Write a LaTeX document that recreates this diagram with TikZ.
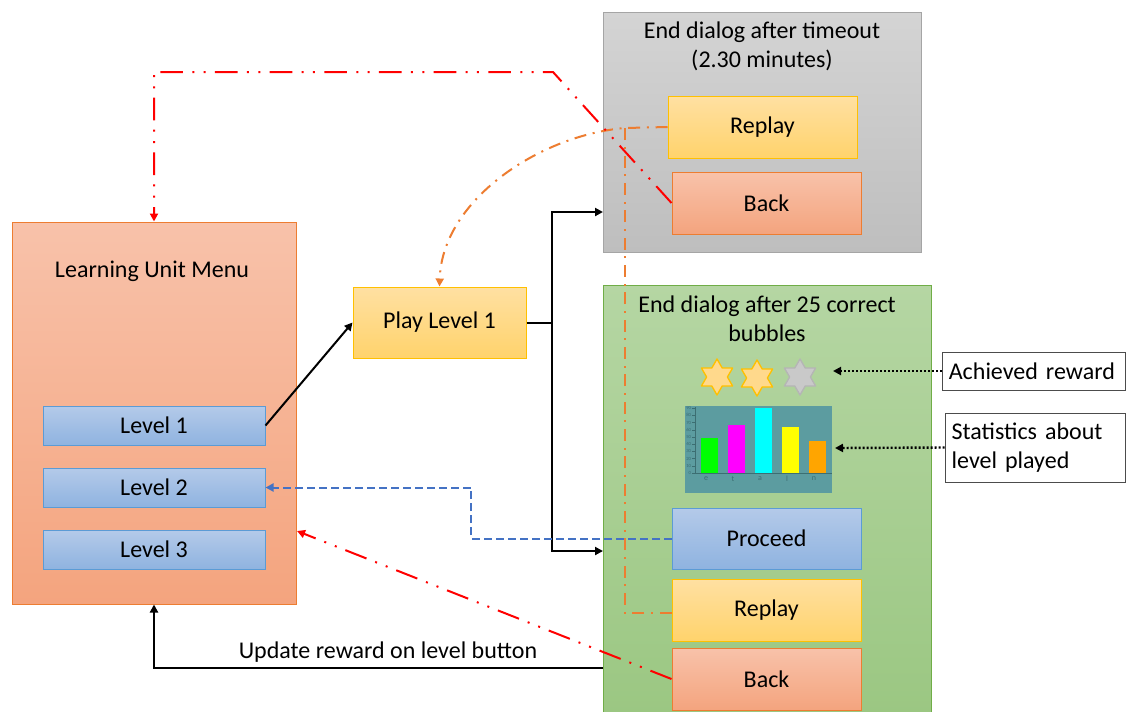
\documentclass[tikz,border=0pt]{standalone}
\usepackage{fontspec}
\setmainfont{Carlito}
\usetikzlibrary{arrows.meta}
\definecolor{orangeline}{HTML}{ED7D31}
\definecolor{orangetop}{HTML}{F8C2AA}
\definecolor{orangebot}{HTML}{F4A47E}
\definecolor{blueline}{HTML}{5B9BD5}
\definecolor{bluetop}{HTML}{B4CAE9}
\definecolor{bluebot}{HTML}{8FB3E0}
\definecolor{yellowline}{HTML}{FFC000}
\definecolor{yellowtop}{HTML}{FFE0A2}
\definecolor{yellowbot}{HTML}{FFD36C}
\definecolor{grayline}{HTML}{A5A5A5}
\definecolor{graytop}{HTML}{D4D4D4}
\definecolor{graybot}{HTML}{BEBEBE}
\definecolor{greenline}{HTML}{70AD47}
\definecolor{greentop}{HTML}{B5D6A3}
\definecolor{greenbot}{HTML}{9BC782}
\definecolor{dashblue}{HTML}{4472C4}
\definecolor{chartbg}{HTML}{5C9CA0}
\definecolor{chartaxis}{HTML}{3C6E72}
\definecolor{stargold}{HTML}{FFD98C}
\definecolor{stargray}{HTML}{C9C9C9}
\definecolor{stargrayline}{HTML}{B5B5B5}
\definecolor{bargreen}{HTML}{00FF00}
\definecolor{barmagenta}{HTML}{FF00FF}
\definecolor{barcyan}{HTML}{00FFFF}
\definecolor{baryellow}{HTML}{FFFF00}
\definecolor{barorange}{HTML}{FFA500}
\tikzset{
  box/.style={draw, line width=0.75pt, inner sep=0pt},
  orangebox/.style={box, draw=orangeline, top color=orangetop, bottom color=orangebot},
  bluebox/.style={box, draw=blueline, top color=bluetop, bottom color=bluebot},
  yellowbox/.style={box, draw=yellowline, top color=yellowtop, bottom color=yellowbot},
  graybox/.style={box, draw=grayline, top color=graytop, bottom color=graybot},
  greenbox/.style={box, draw=greenline, top color=greentop, bottom color=greenbot},
  notebox/.style={draw=black!70, line width=0.75pt, fill=white, inner xsep=5pt, align=left},
  btn/.style={minimum width=141.75pt, minimum height=46.5pt},
  lvl/.style={bluebox, minimum width=166.5pt, minimum height=29.25pt},
  tip/.style={-{Triangle[length=6pt,width=6pt]}},
  blk/.style={draw=black, line width=1.5pt},
  redline/.style={draw=red, line width=1.5pt, dash pattern=on 17pt off 7pt on 1.5pt off 7pt on 1.5pt off 7pt},
  orangedash/.style={draw=orangeline, line width=1.5pt, dash pattern=on 9pt off 5pt on 1.5pt off 5pt},
  bluedash/.style={draw=dashblue, line width=1.5pt, dash pattern=on 6pt off 3pt},
  dotline/.style={draw=black, line width=1.8pt, dash pattern=on 1.5pt off 1.5pt},
  title/.style={align=center},
}
\newcommand{\hexstar}[4]{%
  \filldraw[fill=#3, draw=#4, line width=1pt, line join=round]
    (#1,#2) +(90:18) -- +(120:10.4) -- +(150:18) -- +(180:10.4) -- +(210:18) -- +(240:10.4)
    -- +(270:18) -- +(300:10.4) -- +(330:18) -- +(0:10.4) -- +(30:18) -- +(60:10.4) -- cycle;}
\begin{document}
\begin{tikzpicture}[x=0.75pt,y=-0.75pt, every node/.style={font=\fontsize{18}{21.75}\selectfont, text=black}]
\useasboundingbox (0,0) rectangle (1126,711);
\fill[white] (0,0) rectangle (1126,711);

% Learning unit menu
\node[orangebox, minimum width=213pt, minimum height=286.5pt] (lum) at (154,413) {};
\node (lumtitle) at (152,271) {Learning Unit Menu};
\node[lvl] (lvl1) at (154,425.5) {Level 1};
\node[lvl] (lvl2) at (154,487.5) {Level 2};
\node[lvl] (lvl3) at (154,549.5) {Level 3};

% Play level
\node[yellowbox, minimum width=129.75pt, minimum height=53.25pt] (play) at (439.5,322.5) {Play Level 1};

% Timeout dialog
\node[graybox, minimum width=238.5pt, minimum height=180pt] (gray) at (762,132) {};
\node[title] (graytitle) at (762,46.5) {End dialog after timeout\\(2.30 minutes)};
\node[yellowbox, btn] (replaytop) at (762.5,127) {Replay};
\node[orangebox, btn] (backtop) at (766.5,203) {Back};

% Success dialog
\node[greenbox, minimum width=246pt, minimum height=322.5pt] (green) at (767,500) {};
\node[title] (greentitle) at (767,318.5) {End dialog after 25 correct\\bubbles};
\hexstar{717}{377}{stargold}{yellowline}
\hexstar{757}{378}{stargold}{yellowline}
\hexstar{800}{377}{stargray}{stargrayline}

% chart
\fill[chartbg] (685,406) rectangle (832,493);
\fill[bargreen] (701,438) rectangle (718,473);
\fill[barmagenta] (728,425) rectangle (745,473);
\fill[barcyan] (755,408) rectangle (772,473);
\fill[baryellow] (782,427) rectangle (799,473);
\fill[barorange] (809,441) rectangle (826,473);
\draw[chartaxis, line width=0.5pt] (695,407) -- (695,473) -- (832,473);
\foreach \k in {0,...,9}{
  \draw[chartaxis, line width=0.4pt] (692,473-7.2*\k) -- (695,473-7.2*\k);
  \node[font=\fontsize{3.5}{4}\selectfont, text=chartaxis, anchor=east, inner sep=0.5pt] at (692,473-7.2*\k) {\the\numexpr\k*10\relax};
}
\foreach \l/\xx in {e/706,t/733,a/760,l/787,n/814}{
  \node[font=\fontsize{6}{7}\selectfont, text=chartaxis, inner sep=0pt] at (\xx,479) {\l};
}

\node[bluebox, btn, minimum height=45.75pt] (proceed) at (766.5,538.5) {Proceed};
\node[yellowbox, btn] (replaybot) at (766.5,610) {Replay};
\node[orangebox, btn] (backbot) at (766.5,679) {Back};

% annotation boxes
\node[notebox, minimum width=137.25pt, minimum height=28.5pt, text width=127pt] (achieved) at (1033.5,371) {Achieved reward};
\node[notebox, minimum width=135pt, minimum height=51.75pt, text width=125pt] (stats) at (1035,447.5) {Statistics about\\level played};

% coordinates
\coordinate (junction) at (552,322.5);
\coordinate (grayin) at (603,212);
\coordinate (greenin) at (603,551);
\coordinate (greenout) at (603,668);
\coordinate (topcorner) at (553,72);
\coordinate (lumright) at (297,531);
\coordinate (bluecorner) at (471,538.5);
\coordinate (orangecorner) at (625,128);
\coordinate (starpt) at (833,371);
\coordinate (chartpt) at (835,448);

% connectors
\draw[blk, tip] (lvl1.east) -- (play.west);
\draw[blk] (play.east) -- (junction);
\draw[blk, tip] (junction) |- (grayin);
\draw[blk, tip] (junction) |- (greenin);
\draw[blk, tip] (greenout) -| (lum.south);
\node (updlabel) at (388,652) {Update reward on level button};

\draw[bluedash, tip] (proceed.west) -- (bluecorner) |- (lvl2.east);

\draw[orangedash] (replaybot.west |- 0,613) -| (orangecorner);
\draw[orangedash, tip] (replaytop.west) -- (orangecorner) .. controls (540,135) and (442,200) .. (play.north);

\draw[redline, tip] (backtop.west) -- (topcorner) -| (lum.north);
\draw[redline, tip] (backbot.west) -- (lumright);

\draw[dotline, tip] (achieved.west) -- (starpt);
\draw[dotline, tip] (stats.west) -- (chartpt);
\end{tikzpicture}
\end{document}
